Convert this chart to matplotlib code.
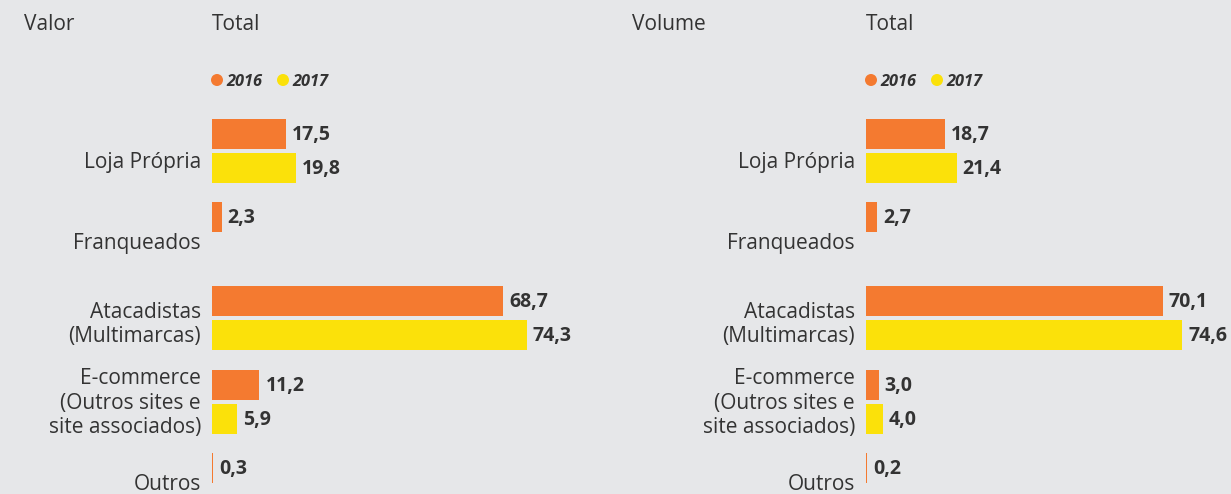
import numpy as np
import matplotlib
matplotlib.use("Agg")
import matplotlib.pyplot as plt
import matplotlib.transforms as mtransforms

categories = ["Loja Própria", "Franqueados", "Atacadistas\n(Multimarcas)",
              "E-commerce\n(Outros sites e\nsite associados)", "Outros"]
years = ["2016", "2017"]
valor_2016 = [17.5, 2.3, 68.7, 11.2, 0.3]
valor_2017 = [19.8, np.nan, 74.3, 5.9, np.nan]
volume_2016 = [18.7, 2.7, 70.1, 3.0, 0.2]
volume_2017 = [21.4, np.nan, 74.6, 4.0, np.nan]

BG = "#e6e7e9"
ORANGE = "#f47a30"
YELLOW = "#fbe10a"
TXT = "#333333"
FONT = "Open Sans"

W, H = 1231, 494
DPI = 100
fig = plt.figure(figsize=(W / DPI, H / DPI), dpi=DPI, facecolor=BG)

GROUP_PX = 83.5
FIRST_CENTER_PX = 151
PX_PER_UNIT = 4.236
label_dy_px = [11.5, 8.5, 6.5, 1.5, -1.0]


def panel(x0_px, v16, v17):
    top_px = FIRST_CENTER_PX - 0.5 * GROUP_PX
    xmax = 80
    width_px = xmax * PX_PER_UNIT
    ax = fig.add_axes([x0_px / W, 0, width_px / W, (H - top_px) / H])
    ax.set_facecolor(BG)
    ax.set_xlim(0, xmax)
    ymax = (H - FIRST_CENTER_PX) / GROUP_PX
    ax.set_ylim(ymax, -0.5)
    ax.axis("off")
    y = np.arange(len(categories))
    h = 30 / GROUP_PX
    off = 17 / GROUP_PX
    ax.barh(y - off, v16, height=h, color=ORANGE, clip_on=False)
    ax.barh(y + off, v17, height=h, color=YELLOW, clip_on=False)
    for yy, vals in ((y - off, v16), (y + off, v17)):
        for yi, v in zip(yy, vals):
            if np.isnan(v):
                continue
            tr = ax.transData + mtransforms.ScaledTranslation(6 / DPI, -1 / DPI, fig.dpi_scale_trans)
            ax.text(v, yi, f"{v:.1f}".replace(".", ","), transform=tr,
                    ha="left", va="center", fontsize=14, fontweight="bold",
                    color=TXT, family=FONT, clip_on=False)
    for i, cat in enumerate(categories):
        tr = ax.transData + mtransforms.ScaledTranslation(-11 / DPI, -label_dy_px[i] / DPI, fig.dpi_scale_trans)
        ax.text(0, i, cat, transform=tr, ha="right", va="center",
                fontsize=15, color=TXT, family=FONT, linespacing=1.19,
                multialignment="right", clip_on=False)
    return ax


def fig_text(x_px, y_px, s, **kw):
    fig.text(x_px / W, 1 - y_px / H, s, **kw)


panel(212, valor_2016, valor_2017)
panel(866, volume_2016, volume_2017)

for (tx, title, totx) in ((24, "Valor", 212), (632, "Volume", 866)):
    fig_text(tx, 24, title, fontsize=15, color=TXT, family=FONT, va="center", ha="left")
    fig_text(totx, 24, "Total", fontsize=15, color=TXT, family=FONT, va="center", ha="left")
    cx = totx + 5
    for j, (yr, col) in enumerate(zip(years, [ORANGE, YELLOW])):
        px = cx + j * 66
        fig.patches.append(matplotlib.patches.Ellipse(
            (px / W, 1 - 80 / H), 12 / W, 12 / H, transform=fig.transFigure,
            facecolor=col, edgecolor="none"))
        fig_text(px + 9, 82, yr, fontsize=11.8, color=TXT, family=FONT,
                 style="italic", fontweight="bold", va="center", ha="left")

fig.savefig("out.png", dpi=DPI, facecolor=BG)
